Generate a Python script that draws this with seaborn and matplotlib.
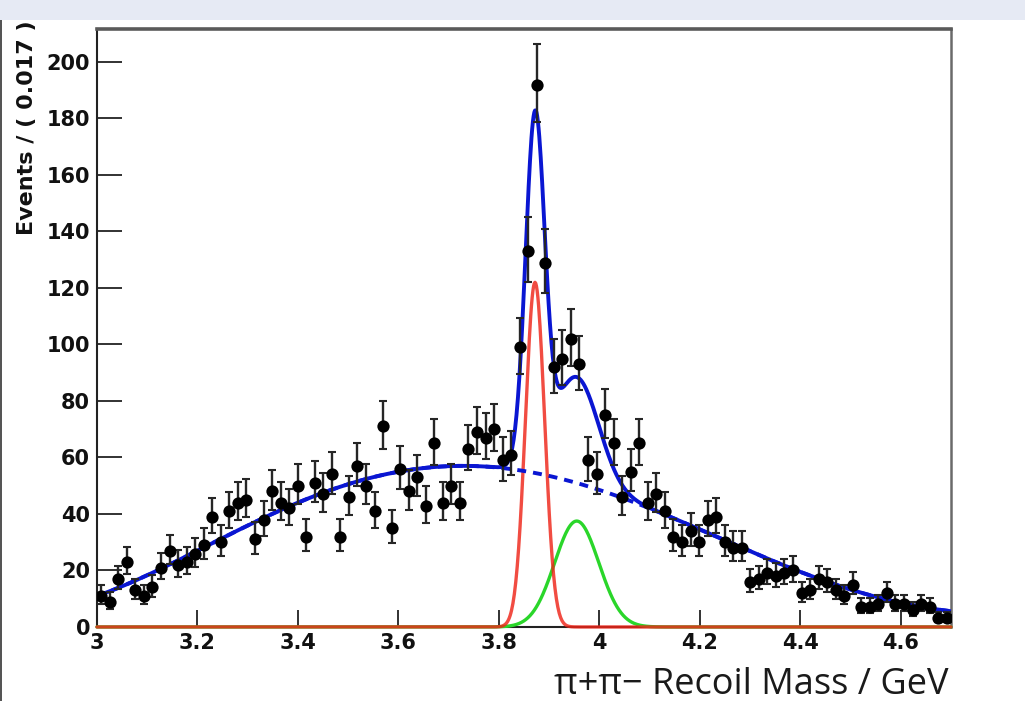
import numpy as np
import pandas as pd
import matplotlib
matplotlib.use("Agg")
import matplotlib.pyplot as plt
from matplotlib.patches import Rectangle
from matplotlib.ticker import MultipleLocator, FuncFormatter
import seaborn as sns

sns.set_style("white")
plt.rcParams["font.family"] = ["DejaVu Sans"]

# Binned pi+pi- recoil-mass spectrum: 100 bins of 0.017 GeV between 3.0 and 4.7 GeV
mass_lo, mass_hi, n_bins = 3.0, 4.7, 100
counts = [11, 9, 17, 23, 13, 11, 14, 21, 27, 22,
          23, 26, 29, 39, 30, 41, 44, 45, 31, 38,
          48, 44, 42, 50, 32, 51, 47, 54, 32, 46,
          57, 50, 41, 71, 35, 56, 48, 53, 43, 65,
          44, 50, 44, 63, 69, 67, 70, 59, 61, 99,
          133, 192, 129, 92, 95, 102, 93, 59, 54, 75,
          65, 46, 55, 65, 44, 47, 41, 32, 30, 34,
          30, 38, 39, 30, 28, 28, 16, 17, 19, 18,
          19, 20, 12, 13, 17, 16, 13, 11, 15, 7,
          7, 8, 12, 8, 8, 6, 8, 7, 3, 3]

# Fitted background shape, sampled along the mass axis
bkg_mass = [3.0, 3.2, 3.4, 3.5, 3.6, 3.7, 3.8, 3.9, 4.0, 4.1, 4.2, 4.3, 4.4, 4.6, 4.7]
bkg_level = [11, 27, 44, 50.3, 55.5, 56.8, 56.6, 52.6, 48.5, 42.6, 35, 26.5, 19, 9, 5.4]

# Two Gaussian signal components: (mean, sigma, peak height)
peak1 = (3.872, 0.019, 122.0)
peak2 = (3.955, 0.044, 37.5)

x_ticks_major = [3.0, 3.2, 3.4, 3.6, 3.8, 4.0, 4.2, 4.4, 4.6]
y_ticks_major = [0, 20, 40, 60, 80, 100, 120, 140, 160, 180, 200]

# ---- derived quantities -------------------------------------------------
bin_w = (mass_hi - mass_lo) / n_bins
centers = mass_lo + bin_w * (np.arange(n_bins) + 0.5)
n = np.asarray(counts, dtype=float)
err_lo = np.sqrt(n + 0.25) - 0.5
err_hi = np.sqrt(n + 0.25) + 0.5
data = pd.DataFrame({"mass": centers, "events": n})

grid = np.linspace(mass_lo, mass_hi, 1200)
u_pts = (np.asarray(bkg_mass) - 3.85) / 0.85
coef = np.polyfit(u_pts, bkg_level, 6)
bkg = np.polyval(coef, (grid - 3.85) / 0.85)


def gauss(x, p):
    mu, s, h = p
    return h * np.exp(-0.5 * ((x - mu) / s) ** 2)


sig1 = gauss(grid, peak1)
sig2 = gauss(grid, peak2)
total = bkg + sig1 + sig2
curves = pd.DataFrame({"mass": grid, "bkg": bkg, "sig1": sig1,
                       "sig2": sig2, "total": total})

# ---- figure --------------------------------------------------------------
fig = plt.figure(figsize=(10.25, 7.01), dpi=100)
fig.patch.set_facecolor("white")
ax = fig.add_axes([0.0946, 0.1056, 0.8332, 0.8531])

blue, red, green = "#0a16d2", "#ee2418", "#2ad62a"

sns.lineplot(data=curves, x="mass", y="sig2", ax=ax, color=green, linewidth=2.4,
             estimator=None, sort=False, zorder=3, clip_on=False)
sns.lineplot(data=curves, x="mass", y="sig1", ax=ax, color=red, linewidth=2.4,
             estimator=None, sort=False, zorder=3, clip_on=False, alpha=0.82)
sns.lineplot(data=curves, x="mass", y="bkg", ax=ax, color=blue, linewidth=2.8,
             estimator=None, sort=False, zorder=4, linestyle=(0, (2.3, 1.8)))
sns.lineplot(data=curves, x="mass", y="total", ax=ax, color=blue, linewidth=2.8,
             estimator=None, sort=False, zorder=4)

ax.errorbar(centers, n, yerr=[err_lo, err_hi], fmt="none", ecolor="#262626",
            elinewidth=1.7, capsize=2.9, capthick=1.5, zorder=5)
sns.scatterplot(data=data, x="mass", y="events", ax=ax, color="black", s=78,
                linewidth=0, zorder=6)

ax.set_xlim(mass_lo, mass_hi)
ax.set_ylim(0, 211.7)
ax.set_xlabel("")
ax.set_ylabel("")

ax.set_xticks(x_ticks_major)
ax.xaxis.set_minor_locator(MultipleLocator(0.05))
ax.set_yticks(y_ticks_major)
ax.yaxis.set_minor_locator(MultipleLocator(5))
ax.xaxis.set_major_formatter(FuncFormatter(lambda v, p: f"{v:g}"))

ax.tick_params(axis="x", which="major", direction="in", length=12.5, width=1.3,
               color="#222222", pad=4, labelsize=15)
ax.tick_params(axis="x", which="minor", direction="in", length=5.5, width=1.1,
               color="#222222")
ax.tick_params(axis="y", which="major", direction="in", length=18, width=1.3,
               color="#222222", pad=5, labelsize=15)
ax.tick_params(axis="y", which="minor", direction="in", length=8.5, width=1.1,
               color="#222222")
ax.tick_params(top=False, right=False, bottom=True, left=True)
for lab in ax.get_xticklabels() + ax.get_yticklabels():
    lab.set_fontweight("bold")
    lab.set_color("#111111")

for side in ["left", "bottom"]:
    ax.spines[side].set_color("#222222")
    ax.spines[side].set_linewidth(1.5)
ax.spines["top"].set_color("#5a5a5a")
ax.spines["top"].set_linewidth(2.6)
ax.spines["right"].set_color("#6a6a6a")
ax.spines["right"].set_linewidth(1.8)

fig.text(27 / 1025, 1 - 20 / 701, "Events / ( 0.017 )", rotation=90,
         ha="center", va="top", fontsize=16, fontweight="bold", color="#111111")
fig.text(948 / 1025, 1 - 685 / 701, "\u03c0+\u03c0\u2212 Recoil Mass / GeV",
         ha="right", va="center", fontsize=26, family=["Open Sans", "DejaVu Sans"],
         color="#1a1a1a")

# slide frame around the plot
fig.patches.append(Rectangle((0, 1 - 20 / 701), 1, 20 / 701, transform=fig.transFigure,
                             facecolor="#e6eaf4", edgecolor="none", zorder=10))
fig.patches.append(Rectangle((0, 0), 2 / 1025, 1 - 20 / 701, transform=fig.transFigure,
                             facecolor="#555555", edgecolor="none", zorder=10))

fig.savefig("out.png", dpi=100)
